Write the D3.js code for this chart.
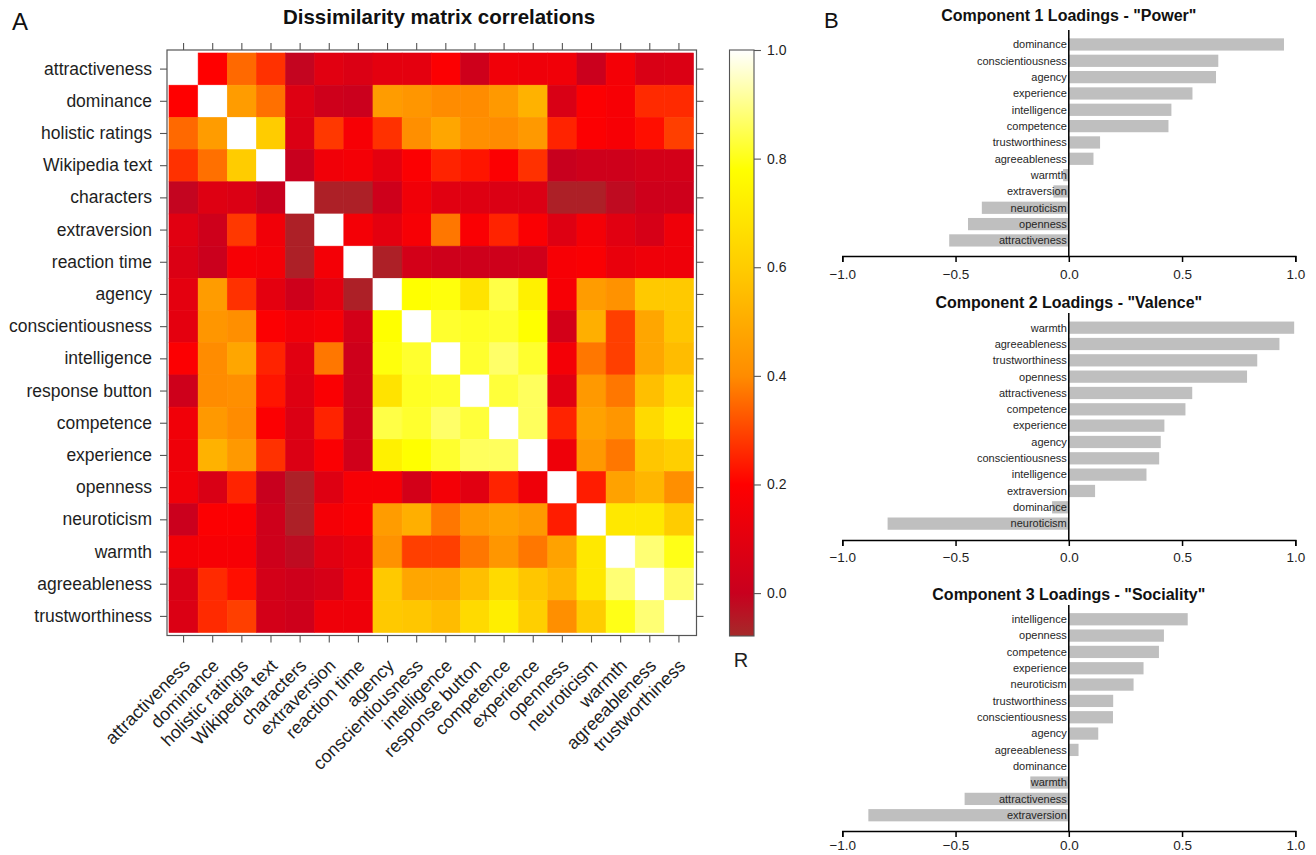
<!DOCTYPE html>
<html>
<head>
<meta charset="utf-8">
<script src="https://cdn.jsdelivr.net/npm/d3@7"></script>
<style>
  body { margin: 0; background: #fff; }
  svg text { font-family: "Liberation Sans", Arial, Helvetica, sans-serif; }
</style>
</head>
<body>
<div id="chart-container"></div>
<script>
// ---- data ----
const variables = ["attractiveness", "dominance", "holistic ratings", "Wikipedia text", "characters",
  "extraversion", "reaction time", "agency", "conscientiousness", "intelligence", "response button",
  "competence", "experience", "openness", "neuroticism", "warmth", "agreeableness", "trustworthiness"];

// lower triangle of the correlation matrix (row i, columns 0..i-1); diagonal is 1
const lowerTriangle = [
  [],
  [0.20],
  [0.35, 0.45],
  [0.27, 0.36, 0.60],
  [-0.01, 0.08, 0.07, 0.00],
  [0.09, 0.02, 0.28, 0.15, -0.06],
  [0.07, 0.01, 0.17, 0.16, -0.06, 0.16],
  [0.10, 0.45, 0.27, 0.10, 0.02, 0.10, -0.06],
  [0.10, 0.43, 0.41, 0.19, 0.15, 0.17, 0.04, 0.78],
  [0.19, 0.40, 0.48, 0.25, 0.09, 0.37, 0.02, 0.79, 0.82],
  [0.02, 0.40, 0.41, 0.23, 0.08, 0.18, 0.02, 0.68, 0.81, 0.82],
  [0.15, 0.44, 0.40, 0.19, 0.07, 0.25, 0.02, 0.84, 0.82, 0.87, 0.83],
  [0.14, 0.52, 0.44, 0.27, 0.07, 0.18, 0.03, 0.73, 0.78, 0.82, 0.86, 0.86],
  [0.15, 0.06, 0.25, 0.00, -0.06, 0.08, 0.17, 0.17, 0.04, 0.16, 0.09, 0.25, 0.14],
  [0.01, 0.19, 0.19, 0.02, -0.06, 0.16, 0.18, 0.45, 0.51, 0.37, 0.44, 0.47, 0.44, 0.24],
  [0.16, 0.17, 0.17, 0.02, -0.02, 0.09, 0.12, 0.42, 0.29, 0.29, 0.37, 0.43, 0.37, 0.47, 0.70],
  [0.06, 0.26, 0.22, 0.04, 0.02, 0.05, 0.14, 0.59, 0.48, 0.48, 0.56, 0.65, 0.58, 0.53, 0.70, 0.88],
  [0.07, 0.26, 0.29, 0.04, 0.02, 0.14, 0.14, 0.59, 0.58, 0.55, 0.65, 0.72, 0.61, 0.41, 0.60, 0.80, 0.88]
];

const colorTicks = [0, 0.2, 0.4, 0.6, 0.8, 1.0];
const colorMin = -0.079;

const comp1Labels = ["dominance", "conscientiousness", "agency", "experience", "intelligence", "competence",
  "trustworthiness", "agreeableness", "warmth", "extraversion", "neuroticism", "openness", "attractiveness"];
const comp1Values = [0.95, 0.66, 0.65, 0.546, 0.453, 0.44, 0.138, 0.109, -0.025, -0.068, -0.384, -0.445, -0.528];

const comp2Labels = ["warmth", "agreeableness", "trustworthiness", "openness", "attractiveness", "competence",
  "experience", "agency", "conscientiousness", "intelligence", "extraversion", "dominance", "neuroticism"];
const comp2Values = [0.995, 0.93, 0.832, 0.787, 0.545, 0.515, 0.422, 0.406, 0.399, 0.343, 0.116, -0.074, -0.80];

const comp3Labels = ["intelligence", "openness", "competence", "experience", "neuroticism", "trustworthiness",
  "conscientiousness", "agency", "agreeableness", "dominance", "warmth", "attractiveness", "extraversion"];
const comp3Values = [0.525, 0.42, 0.398, 0.33, 0.286, 0.196, 0.195, 0.13, 0.043, 0.0, -0.17, -0.46, -0.885];

const loadingTicks = [-1, -0.5, 0, 0.5, 1];

// ---- chart ----
const svg = d3.select("#chart-container").append("svg")
  .attr("width", 1316).attr("height", 855);

const frameColor = "#555";
const textColor = "#1e1e1e";

// colour ramp (dark red -> red -> orange -> yellow -> white)
const heat = d3.scaleLinear()
  .domain([colorMin, 0, 0.2, 0.4, 0.6, 0.78, 1])
  .range(["#a52a2a", "#c8001e", "#ff0000", "#ff8c00", "#ffcc00", "#ffff00", "#ffffff"])
  .clamp(true);

// build full symmetric matrix
const cells = [];
variables.forEach((rowName, i) => {
  variables.forEach((colName, j) => {
    let r;
    if (i === j) r = 1;
    else if (i > j) r = lowerTriangle[i][j];
    else r = lowerTriangle[j][i];
    cells.push({ row: rowName, col: colName, r: r });
  });
});

const xBand = d3.scaleBand().domain(variables).range([169, 693.5]);
const yBand = d3.scaleBand().domain(variables).range([53, 632.5]);

svg.append("g").selectAll("rect")
  .data(cells)
  .join("rect")
  .attr("x", d => xBand(d.col))
  .attr("y", d => yBand(d.row))
  .attr("width", xBand.bandwidth())
  .attr("height", yBand.bandwidth())
  .attr("fill", d => heat(d.r))
  .attr("stroke", d => heat(d.r))
  .attr("stroke-width", 0.6);

// frame
svg.append("rect")
  .attr("x", 167).attr("y", 50)
  .attr("width", 529.5).attr("height", 585.5)
  .attr("fill", "none").attr("stroke", frameColor).attr("stroke-width", 1.2);

const styleAxis = g => {
  g.select(".domain").remove();
  g.selectAll(".tick line").attr("stroke", frameColor).attr("stroke-width", 1.1);
};

// left axis with labels
svg.append("g")
  .attr("transform", "translate(167,0)")
  .call(d3.axisLeft(yBand).tickSize(7).tickPadding(8))
  .call(styleAxis)
  .call(g => g.selectAll("text").style("font-size", "17.5px").attr("fill", textColor));

// right / top ticks
svg.append("g")
  .attr("transform", "translate(696.5,0)")
  .call(d3.axisRight(yBand).tickSize(7).tickFormat(""))
  .call(styleAxis);
svg.append("g")
  .attr("transform", "translate(0,50)")
  .call(d3.axisTop(xBand).tickSize(7).tickFormat(""))
  .call(styleAxis);

// bottom axis with rotated labels
svg.append("g")
  .attr("transform", "translate(0,635.5)")
  .call(d3.axisBottom(xBand).tickSize(7))
  .call(styleAxis)
  .call(g => g.selectAll("text")
    .attr("x", 0).attr("y", 0).attr("dy", "0.35em")
    .attr("transform", "translate(3,27) rotate(-45)")
    .style("text-anchor", "end")
    .style("font-size", "18px")
    .attr("fill", textColor));

// title and panel letters
svg.append("text")
  .attr("x", 439).attr("y", 24)
  .attr("text-anchor", "middle")
  .style("font-size", "20.5px").style("font-weight", "bold")
  .attr("fill", "#111")
  .text("Dissimilarity matrix correlations");

svg.append("text").attr("x", 12).attr("y", 30)
  .style("font-size", "24px").attr("fill", "#111").text("A");
svg.append("text").attr("x", 824).attr("y", 28)
  .style("font-size", "22px").attr("fill", "#111").text("B");

// colour bar
const cScale = d3.scaleLinear().domain([colorMin, 1]).range([636, 50]);
const grad = svg.append("defs").append("linearGradient")
  .attr("id", "heatgrad")
  .attr("x1", 0).attr("y1", 1).attr("x2", 0).attr("y2", 0);
grad.selectAll("stop")
  .data(heat.domain())
  .join("stop")
  .attr("offset", d => (d - colorMin) / (1 - colorMin))
  .attr("stop-color", d => heat(d));

svg.append("rect")
  .attr("x", 729.5).attr("y", 50)
  .attr("width", 24.5).attr("height", 586)
  .attr("fill", "url(#heatgrad)")
  .attr("stroke", frameColor).attr("stroke-width", 1.1);

svg.append("g")
  .attr("transform", "translate(754,0)")
  .call(d3.axisRight(cScale).tickValues(colorTicks).tickSize(7).tickPadding(6).tickFormat(d3.format(".1f")))
  .call(styleAxis)
  .call(g => g.selectAll("text").style("font-size", "14px").attr("fill", textColor));

svg.append("text")
  .attr("x", 741).attr("y", 667)
  .attr("text-anchor", "middle")
  .style("font-size", "20px").attr("fill", textColor)
  .text("R");

// ---- panel B: loadings bar charts ----
const loadX = d3.scaleLinear().domain([-1, 1]).range([842.3, 1295.3]);
const rowStep = 16.33;

function drawLoadings(title, labels, values, layout) {
  const g = svg.append("g");
  const data = labels.map((name, i) => ({ name: name, value: values[i] }));

  const y = d3.scaleBand()
    .domain(labels)
    .range([layout.bandTop, layout.bandTop + labels.length * rowStep])
    .paddingInner(0.25)
    .paddingOuter(0.125);

  g.append("text")
    .attr("x", loadX(0)).attr("y", layout.titleY)
    .attr("text-anchor", "middle")
    .style("font-size", "16px").style("font-weight", "bold")
    .attr("fill", "#111")
    .text(title);

  g.selectAll("rect")
    .data(data)
    .join("rect")
    .attr("x", d => loadX(Math.min(0, d.value)))
    .attr("y", d => y(d.name))
    .attr("width", d => Math.abs(loadX(d.value) - loadX(0)))
    .attr("height", y.bandwidth())
    .attr("fill", "#bfbfbf");

  g.selectAll(".lab")
    .data(data)
    .join("text")
    .attr("class", "lab")
    .attr("x", loadX(0) - 2)
    .attr("y", d => y(d.name) + y.bandwidth() / 2)
    .attr("dy", "0.35em")
    .attr("text-anchor", "end")
    .style("font-size", "11px")
    .attr("fill", "#262626")
    .text(d => d.name);

  g.append("line")
    .attr("x1", loadX(0)).attr("x2", loadX(0))
    .attr("y1", layout.lineTop).attr("y2", layout.axisY)
    .attr("stroke", "#000").attr("stroke-width", 1.5);

  g.append("g")
    .attr("transform", `translate(0,${layout.axisY})`)
    .call(d3.axisBottom(loadX).tickValues(loadingTicks).tickSize(6).tickSizeOuter(6)
      .tickPadding(layout.labelPad).tickFormat(d3.format(".1f")))
    .call(a => a.select(".domain").attr("stroke", "#000").attr("stroke-width", 1.5))
    .call(a => a.selectAll(".tick line").attr("stroke", "#000").attr("stroke-width", 1.5))
    .call(a => a.selectAll("text").style("font-size", "13.5px").attr("fill", textColor));
}

drawLoadings('Component 1 Loadings - "Power"', comp1Labels, comp1Values,
  { titleY: 21, bandTop: 36.3, lineTop: 30, axisY: 256, labelPad: 7 });
drawLoadings('Component 2 Loadings - "Valence"', comp2Labels, comp2Values,
  { titleY: 307.5, bandTop: 319.5, lineTop: 313, axisY: 540, labelPad: 6 });
drawLoadings('Component 3 Loadings - "Sociality"', comp3Labels, comp3Values,
  { titleY: 599.5, bandTop: 611.1, lineTop: 605, axisY: 831, labelPad: 3 });
</script>
</body>
</html>
